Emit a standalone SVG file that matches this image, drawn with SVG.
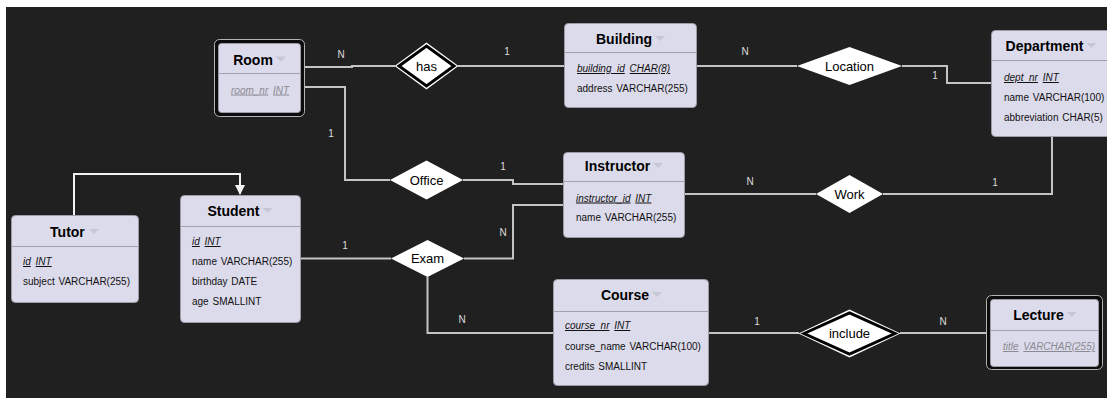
<svg xmlns="http://www.w3.org/2000/svg" width="1107" height="398" viewBox="0 0 1107 398">
  <defs>
    <style>
      .box { fill: #dcdbeb; stroke: #9c9ca8; stroke-width: 1; }
      .weak { fill: #0c0c0c; stroke: #b4b4b4; stroke-width: 1; }
      .sep { stroke: #a2a2aa; stroke-width: 1; }
      .title { font-family: "Liberation Sans", Arial, sans-serif; font-size: 14px; font-weight: bold; fill: #000; }
      .tri { fill: #c6c6d4; }
      .attr { font-family: "Liberation Sans", Arial, sans-serif; font-size: 10px; fill: #111; }
      .key { font-style: italic; text-decoration: underline; }
      .pk { font-family: "Liberation Sans", Arial, sans-serif; font-size: 10px; fill: #8a8a92; font-style: italic; }
      .dia { fill: #ffffff; }
      .dia2 { fill: #ffffff; stroke: #000; stroke-width: 3; }
      .dlab { font-family: "Liberation Sans", Arial, sans-serif; font-size: 13px; fill: #000; text-anchor: middle; }
      .link { fill: none; stroke: #c4c4c4; stroke-width: 2; }
      .card { font-family: "Liberation Sans", Arial, sans-serif; font-size: 10px; fill: #dcdcdc; text-anchor: middle; }
      .isa { fill: none; stroke: #f2f2f2; stroke-width: 2; }
    </style>
    <marker id="arrow" viewBox="0 0 10 10" refX="9" refY="5" markerWidth="5" markerHeight="5" orient="auto">
      <path d="M0,0 L10,5 L0,10 z" fill="#f2f2f2"/>
    </marker>
  </defs>

  <!-- canvas -->
  <rect x="0" y="0" width="1107" height="398" fill="#ffffff"/>
  <rect x="6" y="7" width="1101" height="391" fill="#202020"/>

  <!-- connectors -->
  <g id="connectors">
    <path class="link" d="M301,67 H352 V66 H395"/>
    <path class="link" d="M458,66 H564"/>
    <path class="link" d="M697,66 H797"/>
    <path class="link" d="M902,66 H947 V83 H991"/>
    <path class="link" d="M301,87 H345 V180 H390"/>
    <path class="link" d="M463,180 H513 V184 H563"/>
    <path class="link" d="M685,194 H816"/>
    <path class="link" d="M883,194 H1052 V137"/>
    <path class="link" d="M563,205 H513 V258.5 H464"/>
    <path class="link" d="M300,258.5 H391"/>
    <path class="link" d="M427.5,277 V333 H553"/>
    <path class="link" d="M708,333 H799"/>
    <path class="link" d="M900,333 H986"/>
    <path class="isa" d="M74,215 V174 H240 V194" marker-end="url(#arrow)"/>

    <text class="card" x="341" y="57.5">N</text>
    <text class="card" x="507" y="55">1</text>
    <text class="card" x="745" y="55">N</text>
    <text class="card" x="935" y="78.5">1</text>
    <text class="card" x="331" y="136.5">1</text>
    <text class="card" x="503" y="169.5">1</text>
    <text class="card" x="750" y="184.5">N</text>
    <text class="card" x="995" y="185.5">1</text>
    <text class="card" x="503" y="235.5">N</text>
    <text class="card" x="345" y="249">1</text>
    <text class="card" x="462" y="322.5">N</text>
    <text class="card" x="757" y="324.5">1</text>
    <text class="card" x="943" y="324.5">N</text>
  </g>

  <!-- relationships -->
  <g id="rel-has">
    <polygon class="dia" points="394.5,66 426.5,42.5 458.5,66 426.5,89.5"/>
    <polygon class="dia2" points="399,66 426.5,46 454,66 426.5,86"/>
    <text class="dlab" x="426.5" y="70.5">has</text>
  </g>
  <g id="rel-location">
    <polygon class="dia" points="797,66 849.5,47 902,66 849.5,85"/>
    <text class="dlab" x="849.5" y="70.5">Location</text>
  </g>
  <g id="rel-office">
    <polygon class="dia" points="390,180 426.5,160.5 463,180 426.5,199.5"/>
    <text class="dlab" x="426.5" y="184.5">Office</text>
  </g>
  <g id="rel-work">
    <polygon class="dia" points="816,194 849.5,175 883,194 849.5,213"/>
    <text class="dlab" x="849.5" y="198.5">Work</text>
  </g>
  <g id="rel-exam">
    <polygon class="dia" points="391,258.5 427.5,240 464,258.5 427.5,277"/>
    <text class="dlab" x="427.5" y="263">Exam</text>
  </g>
  <g id="rel-include">
    <polygon class="dia" points="798.5,333.5 849.5,309.5 900.5,333.5 849.5,357.5"/>
    <polygon class="dia2" points="804,333.5 849.5,313 895,333.5 849.5,354"/>
    <text class="dlab" x="849.5" y="338">include</text>
  </g>

  <!-- entities -->
  <g id="ent-room">
    <rect class="weak" x="214.5" y="39.5" width="90" height="77" rx="5"/>
    <rect class="box" x="218.5" y="43.5" width="82" height="69" rx="3" stroke="none"/>
    <text class="title" x="233.2" y="64.5">Room</text>
    <polygon class="tri" points="275.9,56.5 285.9,56.5 280.9,61.5"/>
    <line class="sep" x1="218.5" y1="73.5" x2="300.5" y2="73.5"/>
    <text class="pk" x="231" y="93.5"><tspan text-decoration="underline">room_nr</tspan> <tspan dx="2" text-decoration="underline">INT</tspan></text>
  </g>

  <g id="ent-building">
    <rect class="box" x="564.5" y="23.5" width="132" height="84" rx="4"/>
    <text class="title" x="596" y="44">Building</text>
    <polygon class="tri" points="655,36 665,36 660,41"/>
    <line class="sep" x1="564.5" y1="52.5" x2="696.5" y2="52.5"/>
    <text class="attr" x="577" y="72"><tspan class="key">building_id</tspan> <tspan class="key" dx="2">CHAR(8)</tspan></text>
    <text class="attr" x="577" y="91.5">address <tspan dx="1">VARCHAR(255)</tspan></text>
  </g>

  <!-- runs past the right edge of the canvas -->
  <g id="ent-department">
    <rect class="box" x="991.5" y="30.5" width="120" height="106" rx="4"/>
    <text class="title" x="1005.6" y="51">Department</text>
    <polygon class="tri" points="1086.4,43 1096.4,43 1091.4,48"/>
    <line class="sep" x1="991.5" y1="60.5" x2="1111.5" y2="60.5"/>
    <text class="attr" x="1004" y="81"><tspan class="key">dept_nr</tspan> <tspan class="key" dx="2">INT</tspan></text>
    <text class="attr" x="1004" y="100.5">name <tspan dx="1">VARCHAR(100)</tspan></text>
    <text class="attr" x="1004" y="121">abbreviation <tspan dx="1">CHAR(5)</tspan></text>
  </g>

  <g id="ent-instructor">
    <rect class="box" x="563.5" y="152.5" width="121" height="85" rx="4"/>
    <text class="title" x="584.8" y="171">Instructor</text>
    <polygon class="tri" points="653.1,163 663.1,163 658.1,168"/>
    <line class="sep" x1="563.5" y1="181.5" x2="684.5" y2="181.5"/>
    <text class="attr" x="576" y="201.5"><tspan class="key">instructor_id</tspan> <tspan class="key" dx="2">INT</tspan></text>
    <text class="attr" x="576" y="221">name <tspan dx="1">VARCHAR(255)</tspan></text>
  </g>

  <g id="ent-tutor">
    <rect class="box" x="11.5" y="215.5" width="127" height="87" rx="4"/>
    <text class="title" x="50.1" y="237">Tutor</text>
    <polygon class="tri" points="88.9,229 98.9,229 93.9,234"/>
    <line class="sep" x1="11.5" y1="246.5" x2="138.5" y2="246.5"/>
    <text class="attr" x="23" y="265"><tspan class="key">id</tspan> <tspan class="key" dx="2">INT</tspan></text>
    <text class="attr" x="23" y="285">subject <tspan dx="1">VARCHAR(255)</tspan></text>
  </g>

  <g id="ent-student">
    <rect class="box" x="180.5" y="195.5" width="120" height="127" rx="4"/>
    <text class="title" x="207.4" y="216">Student</text>
    <polygon class="tri" points="262.5,208 272.5,208 267.5,213"/>
    <line class="sep" x1="180.5" y1="226.5" x2="300.5" y2="226.5"/>
    <text class="attr" x="192" y="245"><tspan class="key">id</tspan> <tspan class="key" dx="2">INT</tspan></text>
    <text class="attr" x="192" y="265">name <tspan dx="1">VARCHAR(255)</tspan></text>
    <text class="attr" x="192" y="285">birthday <tspan dx="1">DATE</tspan></text>
    <text class="attr" x="192" y="305">age <tspan dx="1">SMALLINT</tspan></text>
  </g>

  <g id="ent-course">
    <rect class="box" x="553.5" y="279.5" width="155" height="106" rx="4"/>
    <text class="title" x="600.9" y="300">Course</text>
    <polygon class="tri" points="652.1,292 662.1,292 657.1,297"/>
    <line class="sep" x1="553.5" y1="311.5" x2="708.5" y2="311.5"/>
    <text class="attr" x="565" y="329"><tspan class="key">course_nr</tspan> <tspan class="key" dx="2">INT</tspan></text>
    <text class="attr" x="565" y="349.5">course_name <tspan dx="1">VARCHAR(100)</tspan></text>
    <text class="attr" x="565" y="369.5">credits <tspan dx="1">SMALLINT</tspan></text>
  </g>

  <g id="ent-lecture">
    <rect class="weak" x="986.5" y="295.5" width="116" height="74" rx="5"/>
    <rect class="box" x="990.5" y="299.5" width="108" height="67" rx="3" stroke="none"/>
    <text class="title" x="1013.2" y="320">Lecture</text>
    <polygon class="tri" points="1066.8,312 1076.8,312 1071.8,317"/>
    <line class="sep" x1="990.5" y1="330.5" x2="1098.5" y2="330.5"/>
    <text class="pk" x="1003" y="350"><tspan text-decoration="underline">title</tspan> <tspan dx="2" text-decoration="underline">VARCHAR(255)</tspan></text>
  </g>
</svg>
